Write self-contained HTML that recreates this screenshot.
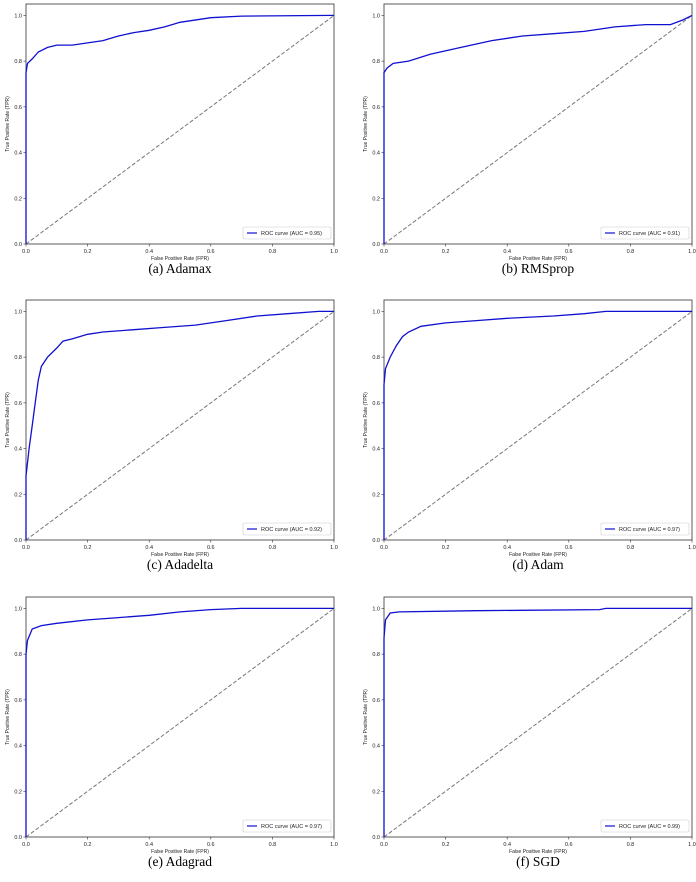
<!DOCTYPE html>
<html><head><meta charset="utf-8">
<style>
html,body{margin:0;padding:0;background:#fff;width:696px;height:882px;overflow:hidden}
svg{display:block}
text{font-family:"Liberation Sans",sans-serif;fill:#222}
.cap{font-family:"Liberation Serif",serif;font-size:13.5px;fill:#000}
</style></head><body>
<svg id="s" width="696" height="882" viewBox="0 0 696 882" xmlns="http://www.w3.org/2000/svg"></svg>
<script>
const panels=[
 {x:26,y:4,cap:"(a) Adamax",auc:"0.95",pts:[[0,0.75],[0.005,0.79],[0.02,0.81],[0.04,0.84],[0.07,0.86],[0.1,0.87],[0.15,0.87],[0.2,0.88],[0.25,0.89],[0.3,0.91],[0.35,0.925],[0.4,0.935],[0.45,0.95],[0.5,0.97],[0.6,0.99],[0.7,0.997],[1,1]]},
 {x:384,y:4,cap:"(b) RMSprop",auc:"0.91",pts:[[0,0.75],[0.01,0.77],[0.03,0.79],[0.08,0.8],[0.15,0.83],[0.25,0.86],[0.35,0.89],[0.45,0.91],[0.55,0.92],[0.65,0.93],[0.75,0.95],[0.85,0.96],[0.93,0.96],[0.97,0.98],[1,1]]},
 {x:26,y:300,cap:"(c) Adadelta",auc:"0.92",pts:[[0,0.28],[0.01,0.4],[0.02,0.5],[0.03,0.6],[0.04,0.7],[0.05,0.76],[0.07,0.8],[0.1,0.84],[0.12,0.87],[0.15,0.88],[0.2,0.9],[0.25,0.91],[0.35,0.92],[0.45,0.93],[0.55,0.94],[0.65,0.96],[0.75,0.98],[0.85,0.99],[0.95,1],[1,1]]},
 {x:384,y:300,cap:"(d) Adam",auc:"0.97",pts:[[0,0.68],[0.005,0.75],[0.02,0.8],[0.04,0.85],[0.06,0.89],[0.08,0.91],[0.12,0.935],[0.2,0.95],[0.3,0.96],[0.4,0.97],[0.55,0.98],[0.65,0.99],[0.72,1],[1,1]]},
 {x:26,y:597,cap:"(e) Adagrad",auc:"0.97",pts:[[0,0.8],[0.005,0.86],[0.02,0.91],[0.05,0.925],[0.1,0.935],[0.2,0.95],[0.3,0.96],[0.4,0.97],[0.5,0.985],[0.6,0.995],[0.7,1],[0.98,1],[1,1]]},
 {x:384,y:597,cap:"(f) SGD",auc:"0.99",pts:[[0,0.87],[0.005,0.95],[0.02,0.98],[0.05,0.985],[0.3,0.99],[0.7,0.995],[0.72,1],[1,1]]}
];
const W=308,H=240,YMAX=1.05;
let h="";
for(const p of panels){
 const X=v=>p.x+v*W, Y=v=>p.y+H-v/YMAX*H;
 h+=`<rect x="${p.x}" y="${p.y}" width="${W}" height="${H}" fill="#fff" stroke="#333" stroke-width="0.8"/>`;
 for(let i=0;i<=5;i++){const v=i/5;
  h+=`<line x1="${X(v)}" y1="${p.y+H}" x2="${X(v)}" y2="${p.y+H+2.5}" stroke="#333" stroke-width="0.6"/>`;
  h+=`<text x="${X(v)}" y="${p.y+H+9}" font-size="5.5" text-anchor="middle">${v.toFixed(1)}</text>`;
  h+=`<line x1="${p.x-2.5}" y1="${Y(v)}" x2="${p.x}" y2="${Y(v)}" stroke="#333" stroke-width="0.6"/>`;
  h+=`<text x="${p.x-4}" y="${Y(v)+2}" font-size="5.5" text-anchor="end">${v.toFixed(1)}</text>`;}
 h+=`<text x="${p.x+W/2}" y="${p.y+H+16}" font-size="5" text-anchor="middle">False Positive Rate (FPR)</text>`;
 h+=`<text transform="translate(${p.x-17},${p.y+H/2}) rotate(-90)" font-size="5" text-anchor="middle">True Positive Rate (TPR)</text>`;
 h+=`<line x1="${X(0)}" y1="${Y(0)}" x2="${X(1)}" y2="${Y(1)}" stroke="#777" stroke-width="1" stroke-dasharray="4,2"/>`;
 let d="M"+X(0)+","+Y(0)+" "+p.pts.map(q=>`L${X(q[0]).toFixed(1)},${Y(q[1]).toFixed(1)}`).join(" ");
 h+=`<path d="${d}" fill="none" stroke="#1010d0" stroke-width="1.3"/>`;
 h+=`<rect x="${p.x+W-91}" y="${p.y+H-17}" width="88" height="12" rx="1.5" fill="#fff" stroke="#ccc" stroke-width="0.6"/>`;
 h+=`<line x1="${p.x+W-87}" y1="${p.y+H-11}" x2="${p.x+W-77}" y2="${p.y+H-11}" stroke="#1010d0" stroke-width="1.2"/>`;
 h+=`<text x="${p.x+W-73}" y="${p.y+H-9}" font-size="5.5">ROC curve (AUC = ${p.auc})</text>`;
 h+=`<text class="cap" x="${p.x+W/2}" y="${p.y+H+29}" text-anchor="middle">${p.cap}</text>`;
}
document.getElementById("s").innerHTML=h;
</script>
</body></html>
